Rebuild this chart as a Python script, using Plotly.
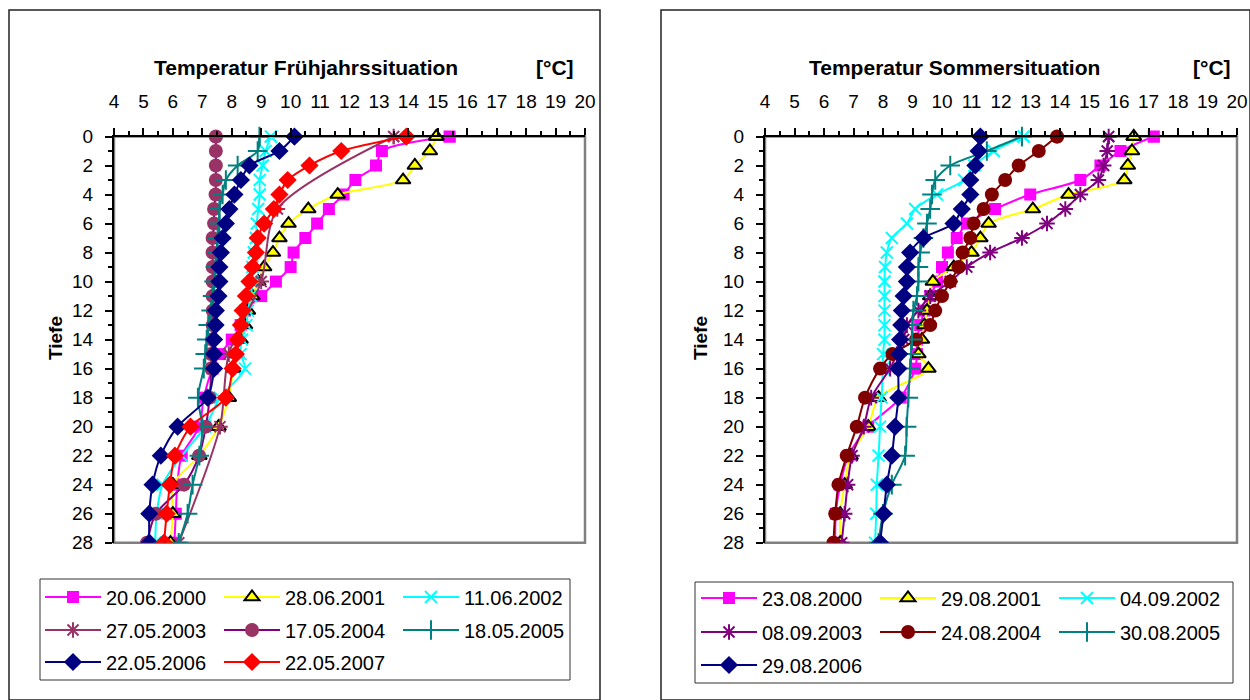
import plotly.graph_objects as go

# ---------------- data ----------------
DEPTH = [0, 1, 2, 3, 4, 5, 6, 7, 8, 9, 10, 11, 12, 13, 14, 15, 16, 18, 20, 22, 24, 26, 28]
DEPTH_2003_SPRING = [0, 5, 10, 15, 20, 28]

# Frühjahrssituation
spring_names = ["20.06.2000", "28.06.2001", "11.06.2002", "27.05.2003",
                "17.05.2004", "18.05.2005", "22.05.2006", "22.05.2007"]
spring_2000 = [15.4, 13.1, 12.9, 12.2, 11.8, 11.3, 10.9, 10.5, 10.1, 10.0, 9.5, 9.0, 8.45, 8.3, 8.0, 7.6, 7.35, 7.05, 6.9, 6.3, 6.15, 6.1, 6.05]
spring_2001 = [14.95, 14.73, 14.22, 13.82, 11.6, 10.6, 9.93, 9.62, 9.4, 9.1, 8.9, 8.7, 8.55, 8.45, 8.3, 8.15, 8.05, 7.9, 7.55, 6.9, 6.0, 6.0, 5.92]
spring_2002 = [9.33, 9.15, 9.05, 8.95, 8.95, 8.9, 8.85, 8.82, 8.75, 8.7, 8.7, 8.65, 8.55, 8.5, 8.35, 8.3, 8.45, 7.6, 7.1, 6.3, 5.65, 5.45, 5.4]
spring_2003 = [13.5, 9.55, 9.0, 7.9, 7.6, 6.2]
spring_2004 = [7.46, 7.46, 7.46, 7.46, 7.45, 7.4, 7.4, 7.35, 7.35, 7.35, 7.35, 7.35, 7.35, 7.35, 7.33, 7.3, 7.3, 7.25, 7.12, 6.89, 6.38, 5.42, 5.12]
spring_2005 = [8.94, 8.88, 8.2, 7.8, 7.69, 7.58, 7.58, 7.52, 7.5, 7.45, 7.4, 7.35, 7.3, 7.2, 7.15, 7.1, 7.05, 6.85, 7.0, 6.9, 6.67, 6.5, 6.2]
spring_2006 = [10.13, 9.62, 8.6, 8.31, 8.09, 7.92, 7.8, 7.69, 7.63, 7.58, 7.58, 7.55, 7.46, 7.45, 7.4, 7.4, 7.4, 7.18, 6.16, 5.59, 5.31, 5.2, 5.2]
spring_2007 = [13.93, 11.72, 10.64, 9.9, 9.62, 9.43, 9.1, 8.88, 8.82, 8.71, 8.6, 8.48, 8.37, 8.31, 8.2, 8.14, 8.03, 7.8, 6.6, 6.07, 5.9, 5.79, 5.7]

# Sommersituation
summer_names = ["23.08.2000", "29.08.2001", "04.09.2002", "08.09.2003",
                "24.08.2004", "30.08.2005", "29.08.2006"]
summer_2000 = [17.18, 16.05, 15.37, 14.69, 12.99, 11.8, 10.84, 10.5, 10.2, 10.0, 9.83, 9.6, 9.4, 9.26, 9.15, 9.15, 9.09, 8.6, 7.5, 6.83, 6.55, 6.4, 6.38]
summer_2001 = [16.5, 16.44, 16.3, 16.18, 14.29, 13.08, 11.58, 11.3, 11.0, 10.4, 9.69, 9.6, 9.49, 9.4, 9.32, 9.2, 9.54, 7.85, 7.5, 6.9, 6.7, 6.55, 6.55]
summer_2002 = [12.77, 11.75, 11.1, 10.75, 9.83, 9.09, 8.81, 8.3, 8.13, 8.07, 8.05, 8.05, 8.05, 8.05, 8.05, 8.0, 8.0, 7.95, 7.9, 7.85, 7.79, 7.77, 7.73]
summer_2003 = [15.65, 15.6, 15.48, 15.3, 14.69, 14.18, 13.56, 12.71, 11.63, 10.84, 10.28, 9.6, 9.2, 8.81, 8.7, 8.47, 8.24, 7.6, 7.35, 6.95, 6.8, 6.7, 6.6]
summer_2004 = [13.9, 13.28, 12.6, 12.14, 11.69, 11.41, 11.07, 10.96, 10.7, 10.56, 10.28, 10.0, 9.77, 9.6, 9.12, 8.32, 7.9, 7.39, 7.11, 6.77, 6.49, 6.38, 6.32]
summer_2005 = [12.71, 11.52, 10.28, 9.77, 9.66, 9.6, 9.49, 9.37, 9.26, 9.2, 9.2, 9.15, 9.03, 9.0, 8.98, 8.95, 8.92, 8.86, 8.8, 8.75, 8.3, 8.0, 7.85]
summer_2006 = [11.3, 11.24, 11.13, 10.96, 10.96, 10.67, 10.39, 9.37, 8.92, 8.81, 8.81, 8.7, 8.64, 8.62, 8.58, 8.55, 8.52, 8.52, 8.41, 8.3, 8.13, 8.02, 7.9]

X_TICKS = list(range(4, 21))
Y_TICKS = list(range(0, 29, 2))

# ---------------- styles ----------------
W, H = 1250, 700
FONT = "Liberation Sans, Arial, sans-serif"


def mk(symbol, color, size, lcolor=None, lwidth=0):
    return dict(symbol=symbol, color=color, size=size,
                line=dict(color=lcolor if lcolor else color, width=lwidth))


spring_styles = [
    ("#FF00FF", mk("square", "#FF00FF", 12)),
    ("#FFFF00", mk("triangle-up", "#FFFF00", 13, "#000000", 2)),
    ("#00FFFF", mk("x-thin", "#00FFFF", 12, "#00FFFF", 2)),
    ("#993366", mk("asterisk", "#993366", 13, "#993366", 2)),
    ("#800080", mk("circle", "#993366", 14)),
    ("#008080", mk("cross-thin", "#008080", 14, "#008080", 2)),
    ("#000080", mk("diamond", "#000080", 14)),
    ("#FF0000", mk("diamond", "#FF0000", 14)),
]
summer_styles = [
    ("#FF00FF", mk("square", "#FF00FF", 12)),
    ("#FFFF00", mk("triangle-up", "#FFFF00", 13, "#000000", 2)),
    ("#00FFFF", mk("x-thin", "#00FFFF", 12, "#00FFFF", 2)),
    ("#800080", mk("asterisk", "#800080", 13, "#800080", 2)),
    ("#800000", mk("circle", "#800000", 14)),
    ("#008080", mk("cross-thin", "#008080", 14, "#008080", 2)),
    ("#000080", mk("diamond", "#000080", 14)),
]

spring_series = [spring_2000, spring_2001, spring_2002, spring_2003,
                 spring_2004, spring_2005, spring_2006, spring_2007]
spring_depths = [DEPTH, DEPTH, DEPTH, DEPTH_2003_SPRING, DEPTH, DEPTH, DEPTH, DEPTH]
summer_series = [summer_2000, summer_2001, summer_2002, summer_2003,
                 summer_2004, summer_2005, summer_2006]

fig = go.Figure()


def add_series(vals, depths, name, style, xa, ya, legend):
    lcolor, marker = style
    fig.add_trace(go.Scatter(
        x=vals, y=depths, name=name, mode="lines+markers",
        line=dict(color=lcolor, width=2, shape="spline", smoothing=0.8),
        marker=marker, xaxis=xa, yaxis=ya, legend=legend, cliponaxis=True))
    # surface value: drawn unclipped like the original
    fig.add_trace(go.Scatter(
        x=vals[:1], y=depths[:1], mode="markers", marker=marker,
        xaxis=xa, yaxis=ya, showlegend=False, cliponaxis=False, hoverinfo="skip"))


spring_legends = ["legend", "legend", "legend", "legend2", "legend2", "legend2", "legend3", "legend3"]
summer_legends = ["legend4", "legend4", "legend4", "legend5", "legend5", "legend5", "legend6"]

for v, d, n, s, lg in zip(spring_series, spring_depths, spring_names, spring_styles, spring_legends):
    add_series(v, d, n, s, "x", "y", lg)
for v, n, s, lg in zip(summer_series, summer_names, summer_styles, summer_legends):
    add_series(v, DEPTH, n, s, "x2", "y2", lg)

# ---------------- layout ----------------
def px(xp):
    return xp / W


def py(yp):
    return 1 - yp / H


PLOT_TOP, PLOT_BOT = 136.5, 542.7
LEFT_X = (114, 585)
RIGHT_X = (765, 1237)

xcommon = dict(range=[4, 20], side="top", tickmode="array", tickvals=X_TICKS,
               ticks="outside", ticklen=7, tickwidth=1.5, tickcolor="black",
               showline=True, linecolor="black", linewidth=2,
               showgrid=False, zeroline=False,
               tickfont=dict(family=FONT, size=19, color="black"),
               ticklabelstandoff=12,
               minor=dict(dtick=0.5, tick0=4, ticks="outside", ticklen=4,
                          tickwidth=1.5, tickcolor="black", showgrid=False))
ycommon = dict(range=[28, 0], tickmode="array", tickvals=Y_TICKS,
               ticks="outside", ticklen=7, tickwidth=1.5, tickcolor="black",
               showline=True, linecolor="black", linewidth=2,
               showgrid=False, zeroline=False,
               tickfont=dict(family=FONT, size=19, color="black"),
               ticklabelstandoff=8,
               minor=dict(dtick=1, tick0=0, ticks="outside", ticklen=4,
                          tickwidth=1.5, tickcolor="black", showgrid=False))

ydom = [py(PLOT_BOT), py(PLOT_TOP)]

leg_common = dict(orientation="h", xanchor="left", yanchor="middle",
                  bgcolor="rgba(0,0,0,0)", borderwidth=0, itemwidth=56,
                  entrywidth=108, tracegroupgap=0,
                  font=dict(family=FONT, size=20, color="black"))

layout_legends = {}
rows_y = [597, 630, 662]
for i, key in enumerate(["legend", "legend2", "legend3"]):
    layout_legends[key] = dict(leg_common, x=px(40), y=py(rows_y[i]))
rows_y2 = [598, 632, 665]
for i, key in enumerate(["legend4", "legend5", "legend6"]):
    layout_legends[key] = dict(leg_common, x=px(696), y=py(rows_y2[i]))

shapes = [
    # panel frames (open towards the page edges, like the cropped original)
    dict(type="rect", xref="paper", yref="paper", x0=px(9), x1=px(600), y0=0, y1=py(10),
         line=dict(color="#222222", width=1.5), layer="below"),
    dict(type="rect", xref="paper", yref="paper", x0=px(661), x1=1, y0=0, y1=py(10),
         line=dict(color="#222222", width=1.5), layer="below"),
    # plot area borders (gray)
    dict(type="rect", xref="x domain", yref="y domain", x0=0, x1=1, y0=0, y1=1,
         line=dict(color="#808080", width=2.5), layer="below"),
    dict(type="rect", xref="x2 domain", yref="y2 domain", x0=0, x1=1, y0=0, y1=1,
         line=dict(color="#808080", width=2.5), layer="below"),
    # legend boxes
    dict(type="rect", xref="paper", yref="paper", x0=px(40), x1=px(570), y0=py(680), y1=py(579),
         line=dict(color="#333333", width=1), layer="below"),
    dict(type="rect", xref="paper", yref="paper", x0=px(695), x1=px(1233), y0=py(683), y1=py(582),
         line=dict(color="#333333", width=1), layer="below"),
]

def ann(text, x, y, size, bold=True, angle=0):
    return dict(text=f"<b>{text}</b>" if bold else text, x=px(x), y=py(y),
                xref="paper", yref="paper", showarrow=False, textangle=angle,
                xanchor="center", yanchor="middle",
                font=dict(family=FONT, size=size, color="black"))

annotations = [
    ann("Temperatur Frühjahrssituation", 305.5, 67, 21),
    ann("[°C]", 554.5, 67, 21),
    ann("Temperatur Sommersituation", 954.5, 67, 21),
    ann("[°C]", 1211.5, 67, 21),
    ann("Tiefe", 55, 338, 19, angle=-90),
    ann("Tiefe", 700, 338, 19, angle=-90),
]

fig.update_layout(
    autosize=True,
    margin=dict(l=0, r=0, t=0, b=0, autoexpand=False),
    paper_bgcolor="white", plot_bgcolor="white",
    font=dict(family=FONT, color="black"),
    xaxis=dict(xcommon, domain=[px(LEFT_X[0]), px(LEFT_X[1])], anchor="y"),
    yaxis=dict(ycommon, domain=ydom, anchor="x"),
    xaxis2=dict(xcommon, domain=[px(RIGHT_X[0]), px(RIGHT_X[1])], anchor="y2"),
    yaxis2=dict(ycommon, domain=ydom, anchor="x2"),
    shapes=shapes,
    annotations=annotations,
    **layout_legends,
)

fig.write_html("out.html",
               config={"displayModeBar": False, "responsive": True},
               default_width="100vw", default_height="100vh",
               post_script="document.documentElement.style.margin='0';"
                           "document.body.style.margin='0';document.body.style.padding='0';"
                           "document.body.style.overflow='hidden';"
                           "var gd=document.getElementById('{plot_id}');"
                           "gd.style.width='100vw';gd.style.height='100vh';"
                           "Plotly.Plots.resize(gd);")
